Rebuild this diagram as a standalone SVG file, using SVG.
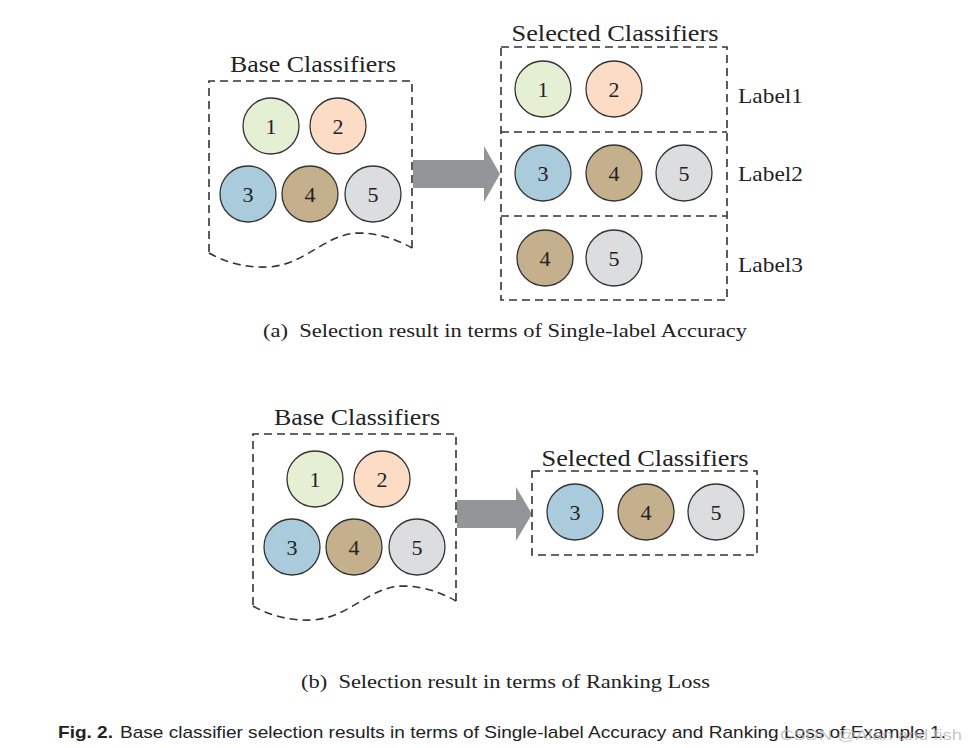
<svg xmlns="http://www.w3.org/2000/svg" width="978" height="748" viewBox="0 0 978 748">
<style>
.dash{fill:none;stroke:#333;stroke-width:1.6;stroke-dasharray:8 5}
.c{stroke:#333;stroke-width:1.3}
.c1{fill:#e5efd4}.c2{fill:#fddcc6}.c3{fill:#a9cbdc}.c4{fill:#c4b08c}.c5{fill:#dcdddf}
.t{font-family:"Liberation Serif","DejaVu Serif",serif;fill:#222}
.num{font-size:22px;text-anchor:middle}
.title{font-size:23px;text-anchor:middle}
.lbl{font-size:22px}
.cap{font-size:19px}
.arrow{fill:#939598}
</style>
<!-- Part (a) -->
<g id="a_base">
<text class="t title" x="313" y="72" textLength="166" lengthAdjust="spacingAndGlyphs">Base Classifiers</text>
<path class="dash" d="M209,252 L209,81 L412,81 L412,251"/>
<path class="dash" d="M209,253 C225,262 245,268 268,267 C305,265 325,234 358,233 C380,233 398,240 412,248"/>
<g class="t num">
<circle class="c c1" cx="271" cy="126" r="28"/><text x="271" y="134">1</text>
<circle class="c c2" cx="338" cy="126" r="28"/><text x="338" y="134">2</text>
<circle class="c c3" cx="248" cy="194" r="28"/><text x="248" y="202">3</text>
<circle class="c c4" cx="310" cy="194" r="28"/><text x="310" y="202">4</text>
<circle class="c c5" cx="373" cy="194" r="28"/><text x="373" y="202">5</text>
</g>
</g>
<g id="connectors">
<polygon class="arrow" points="413,160 484,160 484,146 500,174 484,202 484,188 413,188"/>
<polygon class="arrow" points="457,500 516,500 516,487 532,514 516,541 516,528 457,528"/>
</g>
<g id="a_selected">
<text class="t title" x="615" y="41" textLength="207" lengthAdjust="spacingAndGlyphs">Selected Classifiers</text>
<rect class="dash" x="501" y="47" width="226" height="253"/>
<line class="dash" x1="501" y1="132" x2="727" y2="132"/>
<line class="dash" x1="501" y1="216" x2="727" y2="216"/>
<g class="t num">
<circle class="c c1" cx="543" cy="89" r="28"/><text x="543" y="97">1</text>
<circle class="c c2" cx="614" cy="89" r="28"/><text x="614" y="97">2</text>
<circle class="c c3" cx="543" cy="173" r="28"/><text x="543" y="181">3</text>
<circle class="c c4" cx="614" cy="173" r="28"/><text x="614" y="181">4</text>
<circle class="c c5" cx="684" cy="173" r="28"/><text x="684" y="181">5</text>
<circle class="c c4" cx="545" cy="258" r="28"/><text x="545" y="266">4</text>
<circle class="c c5" cx="614" cy="258" r="28"/><text x="614" y="266">5</text>
</g>
<text class="t lbl" x="738" y="103" textLength="65" lengthAdjust="spacingAndGlyphs">Label1</text>
<text class="t lbl" x="738" y="181" textLength="65" lengthAdjust="spacingAndGlyphs">Label2</text>
<text class="t lbl" x="738" y="272" textLength="65" lengthAdjust="spacingAndGlyphs">Label3</text>
</g>
<text class="t cap" x="263" y="337" xml:space="preserve" textLength="484" lengthAdjust="spacingAndGlyphs">(a)  Selection result in terms of Single-label Accuracy</text>
<!-- Part (b) -->
<g id="b_base">
<text class="t title" x="357" y="425" textLength="166" lengthAdjust="spacingAndGlyphs">Base Classifiers</text>
<path class="dash" d="M253,605 L253,434 L456,434 L456,604"/>
<path class="dash" d="M253,606 C269,615 289,621 312,620 C349,618 369,587 402,586 C424,586 442,593 456,601"/>
<g class="t num">
<circle class="c c1" cx="315" cy="479" r="28"/><text x="315" y="487">1</text>
<circle class="c c2" cx="382" cy="479" r="28"/><text x="382" y="487">2</text>
<circle class="c c3" cx="292" cy="547" r="28"/><text x="292" y="555">3</text>
<circle class="c c4" cx="354" cy="547" r="28"/><text x="354" y="555">4</text>
<circle class="c c5" cx="417" cy="547" r="28"/><text x="417" y="555">5</text>
</g>
</g>
<g id="b_selected">
<text class="t title" x="645" y="466" textLength="207" lengthAdjust="spacingAndGlyphs">Selected Classifiers</text>
<rect class="dash" x="532" y="471" width="225" height="84"/>
<g class="t num">
<circle class="c c3" cx="575" cy="512" r="28"/><text x="575" y="520">3</text>
<circle class="c c4" cx="646" cy="512" r="28"/><text x="646" y="520">4</text>
<circle class="c c5" cx="716" cy="512" r="28"/><text x="716" y="520">5</text>
</g>
</g>
<text class="t cap" x="301" y="688" xml:space="preserve" textLength="409" lengthAdjust="spacingAndGlyphs">(b)  Selection result in terms of Ranking Loss</text>
<!-- Figure caption -->
<text x="58" y="738" font-family="'Liberation Sans','DejaVu Sans',sans-serif" font-size="17" font-weight="bold" fill="#222" textLength="55" lengthAdjust="spacingAndGlyphs">Fig. 2.</text>
<text x="120" y="738" font-family="'Liberation Sans','DejaVu Sans',sans-serif" font-size="17" fill="#222" textLength="826" lengthAdjust="spacingAndGlyphs">Base classifier selection results in terms of Single-label Accuracy and Ranking Loss of Example 1.</text>
<text x="780" y="740" font-family="'Liberation Sans','DejaVu Sans',sans-serif" font-size="15" fill="#b8b8b8" fill-opacity="0.8" textLength="182" lengthAdjust="spacingAndGlyphs">CSDN @Alan and fish</text>
</svg>
